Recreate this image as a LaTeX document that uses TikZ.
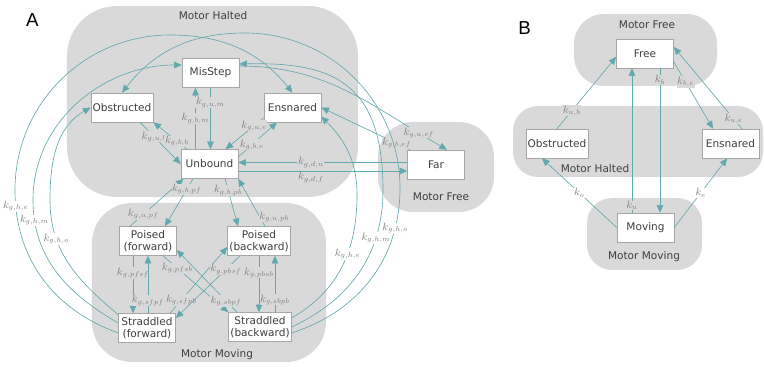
\documentclass[tikz,border=0pt]{standalone}
\usepackage{fontspec}
\setmainfont{DejaVu Sans}
\newfontfamily\panelfont{Liberation Sans}
\usepackage{tikz}
\usetikzlibrary{arrows.meta,positioning}
\definecolor{zoneGray}{HTML}{D9D9D9}
\definecolor{edgeTeal}{HTML}{62A9AE}
\definecolor{boxLine}{HTML}{A6A6A6}
\definecolor{inkGray}{HTML}{3F3F3F}
\definecolor{rateGray}{HTML}{7F7F7F}

\begin{document}
\begin{tikzpicture}[x=0.3mm, y=0.3mm,
    zone/.style={rectangle, fill=zoneGray, inner sep=0pt},
    statebox/.style={rectangle, draw=boxLine, fill=white, line width=0.5pt,
                minimum width=17.1mm, minimum height=8.7mm, inner sep=1.5pt,
                font=\fontsize{9}{10.5}\selectfont, text=inkGray, align=center},
    zonetitle/.style={font=\fontsize{9}{10}\selectfont, text=inkGray},
    panel/.style={font=\panelfont\fontsize{16}{18}\selectfont, text=black},
    ratelbl/.style={fill=zoneGray, inner sep=0.5pt, font=\fontsize{9}{10}\selectfont, text=rateGray},
    ratewhite/.style={ratelbl, fill=white},
    arr/.style={-{Triangle[length=2.3mm,width=2mm]}, line width=0.55pt, color=edgeTeal}
  ]
    \useasboundingbox (0,0) rectangle (764,-367);

    % zones
    \node[zone, rounded corners=15mm, minimum width=87.3mm, minimum height=57.3mm] (haltA) at (212.5,-101.5) {};
    \node[zone, rounded corners=12mm, minimum width=70.2mm, minimum height=47.7mm] (moveA) at (209,-282.5) {};
    \node[zone, rounded corners=10.5mm, minimum width=34.8mm, minimum height=27mm] (freeA) at (436,-167) {};
    \node[zone, rounded corners=9mm, minimum width=42.9mm, minimum height=21.6mm] (freeB) at (645.5,-50) {};
    \node[zone, rounded corners=7.5mm, minimum width=75mm, minimum height=21.3mm] (haltB) at (638,-141.5) {};
    \node[zone, rounded corners=7.5mm, minimum width=34.5mm, minimum height=21.6mm] (moveB) at (644.5,-234) {};

    \node[zonetitle] (tHaltA) at (213,-16) {Motor Halted};
    \node[zonetitle] (tMoveA) at (217,-355) {Motor Moving};
    \node[zonetitle] (tFreeA) at (441,-197) {Motor Free};
    \node[zonetitle] (tFreeB) at (647,-25) {Motor Free};
    \node[zonetitle] (tHaltB) at (595,-169) {Motor Halted};
    \node[zonetitle] (tMoveB) at (644,-257) {Motor Moving};

    \node[panel] (pA) at (32.5,-20) {A};
    \node[panel] (pB) at (524.5,-28.5) {B};

    % states, panel A
    \node[statebox] (mis)  at (210.5,-73)  {MisStep};
    \node[statebox] (obst) at (122,-107.5) {Obstructed};
    \node[statebox] (ens)  at (292.5,-107.5) {Ensnared};
    \node[statebox] (unb)  at (209.5,-164) {Unbound};
    \node[statebox] (far)  at (436,-164.5) {Far};
    \node[statebox] (pf)   at (148,-241) {Poised\\(forward)};
    \node[statebox] (pb)   at (259,-241) {Poised\\(backward)};
    \node[statebox] (sf)   at (147,-328) {Straddled\\(forward)};
    \node[statebox] (sb)   at (260,-327) {Straddled\\(backward)};

    % states, panel B
    \node[statebox] (freeN) at (645,-53.5) {Free};
    \node[statebox] (obstB) at (557,-143.5) {Obstructed};
    \node[statebox] (ensB)  at (730.5,-143.5) {Ensnared};
    \node[statebox] (movN)  at (645.5,-227.5) {Moving};

    % halted zone, panel A
    \draw[arr] ([xshift=-4.2mm]unb.north) -- node[ratelbl,pos=0.5]{$k_{g,b,m}$} ([xshift=-4.2mm]unb.north |- mis.south);
    \draw[arr] (mis.south) -- node[ratelbl,pos=0.24]{$k_{g,u,m}$} (mis.south |- unb.north);
    \draw[arr] ([xshift=5.4mm]obst.south) -- node[ratelbl,pos=0.35]{$k_{g,u,b}$} (unb.west);
    \draw[arr] ([xshift=-6.75mm]unb.north) -- node[ratelbl,pos=0.3]{$k_{g,b,b}$} (obst.south east);
    \draw[arr] ([yshift=-3.15mm]ens.west) -- node[ratelbl,pos=0.25]{$k_{g,u,e}$} ([xshift=4.8mm]unb.north);
    \draw[arr] ([yshift=2.1mm]unb.east) -- node[ratelbl,pos=0.35]{$k_{g,b,e}$} ([xshift=-4.65mm]ens.south);
    \draw[arr] ([yshift=0.6mm]far.west) -- node[ratelbl,pos=0.57]{$k_{g,d,u}$} ([yshift=0.6mm]far.west -| unb.east);
    \draw[arr] ([yshift=-2.1mm]unb.east) -- node[ratelbl,pos=0.43,below=0.5pt]{$k_{g,d,f}$} ([yshift=-2.1mm]unb.east -| far.west);
    \draw[arr] ([yshift=2.1mm]mis.east) to[out=0,in=150] node[ratelbl,pos=0.87]{$k_{g,u,ef}$} ([xshift=3.3mm]far.north);
    \draw[arr] ([xshift=-7.8mm]far.north) -- node[ratelbl,pos=0.15]{$k_{g,b,ef}$} (ens.east);

    % halted <-> moving
    \draw[arr] ([xshift=-5.4mm]pf.north) -- node[ratelbl,pos=0.25]{$k_{g,u,pf}$} ([xshift=-7.8mm]unb.south);
    \draw[arr] ([xshift=-4.95mm]unb.south) -- node[ratelbl,pos=0.22]{$k_{g,b,pf}$} ([xshift=5.1mm]pf.north);
    \draw[arr] ([xshift=4.65mm]unb.south) -- node[ratelbl,pos=0.25]{$k_{g,b,pb}$} ([xshift=-6.3mm]pb.north);
    \draw[arr] ([xshift=1.8mm]pb.north) -- node[ratelbl,pos=0.2,right=-1pt]{$k_{g,u,pb}$} (unb.south east);

    % moving zone
    \draw[arr] ([xshift=-4.5mm]pf.south) -- node[ratelbl,pos=0.3]{$k_{g,pfsf}$} ([xshift=-4.5mm]pf.south |- sf.north);
    \draw[arr] ([xshift=0.3mm]sf.north) -- node[ratelbl,pos=0.22]{$k_{g,sfpf}$} ([xshift=0.3mm]sf.north |- pf.south);
    \draw[arr] ([xshift=4.5mm]pf.south) -- node[ratelbl,pos=0.22]{$k_{g,pfsb}$} (sb.north west);
    \draw[arr] ([xshift=-6.9mm]sb.north) -- node[ratelbl,pos=0.18]{$k_{g,sbpf}$} ([yshift=-2.7mm]pf.east);
    \draw[arr] ([xshift=6.9mm]sf.north) -- node[ratelbl,pos=0.2]{$k_{g,sfpb}$} ([yshift=-1.8mm]pb.west);
    \draw[arr] ([xshift=-5.7mm]pb.south) -- node[ratelbl,pos=0.22]{$k_{g,pbsf}$} ([yshift=3mm]sf.east);
    \draw[arr] (pb.south) -- node[ratelbl,pos=0.3]{$k_{g,pbsb}$} (pb.south |- sb.north);
    \draw[arr] ([xshift=4.5mm]sb.north) -- node[ratelbl,pos=0.22]{$k_{g,sbpb}$} ([xshift=4.5mm]sb.north |- pb.south);

    % long hops back to the halted zone
    \draw[arr] ([yshift=-1.5mm]sf.west) to[out=160,in=270] node[ratewhite,pos=0.92]{$k_{g,h,e}$} (15,-190)
        to[out=90,in=180] (170,-35) to[out=0,in=129] (ens.north);
    \draw[arr] ([yshift=1.5mm]sf.west) to[out=150,in=270] node[ratewhite,pos=0.88]{$k_{g,h,m}$} (33,-200)
        to[out=90,in=180] ([yshift=2.4mm]mis.west);
    \draw[arr] ([yshift=4mm]sf.west) to[out=140,in=270] node[ratewhite,pos=0.72]{$k_{g,h,o}$} (50,-200)
        to[out=90,in=210] (obst.west);
    \draw[arr] ([yshift=2.7mm]sb.east) to[out=30,in=270] node[ratewhite,pos=0.6]{$k_{g,h,e}$} (357,-195)
        to[out=90,in=-45] ([yshift=-2.7mm]ens.east);
    \draw[arr] (sb.east) to[out=25,in=270] node[ratewhite,pos=0.73]{$k_{g,h,m}$} (383,-190)
        .. controls (383,-80) and (330,-62) .. ([yshift=2.7mm]mis.east);
    \draw[arr] ([yshift=-1.8mm]sb.east) to[out=18,in=270] node[ratewhite,pos=0.8]{$k_{g,h,o}$} (400,-188)
        to[out=90,in=0] (245,-33) to[out=180,in=52] (obst.north);

    % panel B
    \draw[arr] ([xshift=-4.05mm]movN.north) -- node[ratelbl,pos=0.05]{$k_u$} ([xshift=-4.05mm]movN.north |- freeN.south);
    \draw[arr] ([xshift=4.5mm]freeN.south) -- node[ratelbl,pos=0.08]{$k_b$} ([xshift=4.5mm]freeN.south |- movN.north);
    \draw[arr] (obstB.north) -- node[ratelbl,pos=0.25]{$k_{u,b}$} ([yshift=-1mm]freeN.west);
    \draw[arr] ([yshift=-2.55mm]freeN.east) -- node[ratelbl,pos=0.3]{$k_{b,e}$} ([xshift=-5.25mm]ensB.north);
    \draw[arr] ([xshift=3.45mm]ensB.north) -- node[ratelbl,pos=0.12]{$k_{u,e}$} ([yshift=1.95mm]freeN.east);
    \draw[arr] (movN.west) -- node[ratewhite,pos=0.5]{$k_o$} ([xshift=-4.5mm]obstB.south);
    \draw[arr] (movN.east) -- node[ratewhite,pos=0.5]{$k_e$} ([xshift=-1mm]ensB.south);
\end{tikzpicture}
\end{document}
